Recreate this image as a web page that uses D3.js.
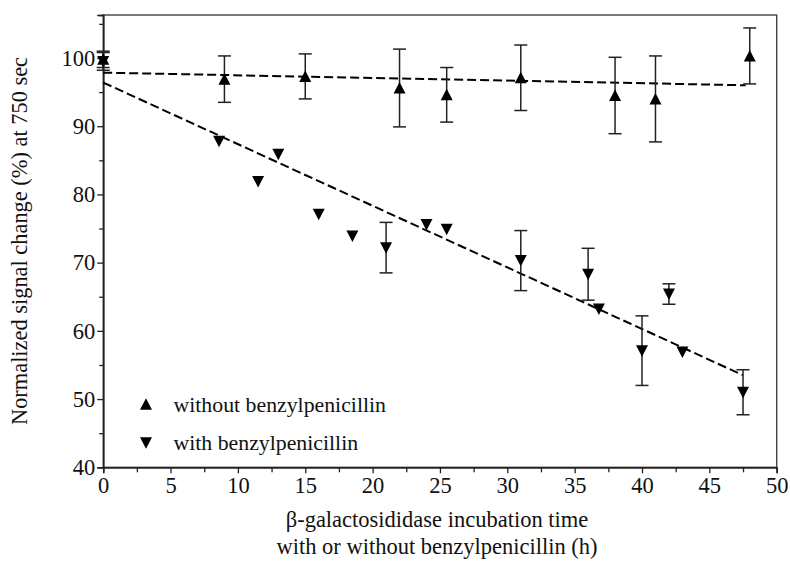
<!DOCTYPE html>
<html>
<head>
<meta charset="utf-8">
<script src="https://cdn.jsdelivr.net/npm/d3@7/dist/d3.min.js"></script>
<style>
  html, body { margin: 0; padding: 0; background: #fff; }
</style>
</head>
<body>
<svg id="chart" width="790" height="579"></svg>
<script>
// Incubation time (h) and normalized signal change (%) at 750 s
const withoutTime = [0, 9, 15, 22, 25.5, 31, 38, 41, 48];
const withoutValue = [99.8, 96.9, 97.3, 95.6, 94.6, 97.1, 94.5, 94.0, 100.3];
const withoutErr = [1.2, 3.4, 3.3, 5.7, 4.0, 4.8, 5.6, 6.3, 4.1];

const withTime = [0, 8.6, 11.5, 13, 16, 18.5, 21, 24, 25.5, 31, 36, 36.8, 40, 42, 43, 47.5];
const withValue = [99.5, 87.8, 81.9, 85.9, 77.1, 73.9, 72.2, 75.6, 74.9, 70.3, 68.3, 63.2, 57.1, 65.4, 56.9, 51.0];
const withErr = [1.3, null, null, null, null, null, 3.7, null, null, 4.4, 3.8, null, 5.1, 1.5, null, 3.3];

// Linear fits (start and end of each regression line)
const fitWithoutX = [0, 47.7];
const fitWithoutY = [97.85, 96.0];
const fitWithX = [0, 47.5];
const fitWithY = [96.4, 53.5];

const xTicks = [0, 5, 10, 15, 20, 25, 30, 35, 40, 45, 50];
const yTicks = [40, 50, 60, 70, 80, 90, 100];
const legendLabels = ["without benzylpenicillin", "with benzylpenicillin"];
const yTitle = "Normalized signal change (%) at 750 sec";
const xTitle = ["\u03B2-galactosididase incubation time", "with or without benzylpenicillin (h)"];

const FONT = "Liberation Serif";
const svg = d3.select("#chart");
const mLeft = 103.2, mRight = 776.7, mTop = 15, mBottom = 467.3;

const x = d3.scaleLinear().domain([0, 50]).range([mLeft, mRight]);
const y = d3.scaleLinear().domain([40, 106.3]).range([mBottom, mTop]);

// frame
svg.append("rect")
  .attr("x", mLeft).attr("y", mTop)
  .attr("width", mRight - mLeft).attr("height", mBottom - mTop)
  .attr("fill", "none").attr("stroke", "#444").attr("stroke-width", 1.4);

// x axis
const xAxis = d3.axisBottom(x).tickValues(xTicks).tickSize(6).tickPadding(4).tickFormat(d3.format("d"));
svg.append("g").attr("transform", `translate(0,${mBottom})`).call(xAxis);
const xMinor = d3.axisBottom(x).tickValues(d3.range(2.5, 50, 5)).tickSize(5).tickFormat("");
svg.append("g").attr("transform", `translate(0,${mBottom})`).call(xMinor);

// y axis
const yAxis = d3.axisLeft(y).tickValues(yTicks).tickSize(6).tickPadding(2).tickFormat(d3.format("d"));
svg.append("g").attr("transform", `translate(${mLeft},0)`).call(yAxis);
const yMinor = d3.axisLeft(y).tickValues([45, 55, 65, 75, 85, 95, 105]).tickSize(4).tickFormat("");
svg.append("g").attr("transform", `translate(${mLeft},0)`).call(yMinor);

svg.selectAll("g").attr("font-family", FONT);
svg.selectAll(".domain").attr("stroke", "#222").attr("stroke-width", 1.4);
svg.selectAll(".tick line").attr("stroke", "#222").attr("stroke-width", 1.3);
svg.selectAll(".tick text").attr("font-size", 22.5).attr("fill", "#111").attr("font-family", FONT);

// fit lines
const line = d3.line().x(d => x(d[0])).y(d => y(d[1]));
svg.append("path")
  .attr("d", line(fitWithoutX.map((v, i) => [v, fitWithoutY[i]])))
  .attr("fill", "none").attr("stroke", "#000").attr("stroke-width", 2).attr("stroke-dasharray", "9,4");
svg.append("path")
  .attr("d", line(fitWithX.map((v, i) => [v, fitWithY[i]])))
  .attr("fill", "none").attr("stroke", "#000").attr("stroke-width", 2).attr("stroke-dasharray", "9,4");

// error bars
function errorBars(times, values, errs) {
  const g = svg.append("g").attr("stroke", "#222").attr("stroke-width", 1.5);
  times.forEach((t, i) => {
    const e = errs[i];
    if (e == null) return;
    const cx = x(t), y1 = y(values[i] + e), y2 = y(values[i] - e);
    g.append("line").attr("x1", cx).attr("x2", cx).attr("y1", y1).attr("y2", y2);
    g.append("line").attr("x1", cx - 6.5).attr("x2", cx + 6.5).attr("y1", y1).attr("y2", y1);
    g.append("line").attr("x1", cx - 6.5).attr("x2", cx + 6.5).attr("y1", y2).attr("y2", y2);
  });
}
errorBars(withoutTime, withoutValue, withoutErr);
errorBars(withTime, withValue, withErr);

// triangle markers
const s = 6;
const upTri = `M0,${-s} L${s},${s - 0.5} L${-s},${s - 0.5} Z`;
const downTri = `M0,${s} L${s},${-s + 0.5} L${-s},${-s + 0.5} Z`;

svg.append("g").selectAll("path").data(withoutTime).join("path")
  .attr("d", upTri)
  .attr("transform", (d, i) => `translate(${x(d)},${y(withoutValue[i])})`)
  .attr("fill", "#000");
svg.append("g").selectAll("path").data(withTime).join("path")
  .attr("d", downTri)
  .attr("transform", (d, i) => `translate(${x(d)},${y(withValue[i])})`)
  .attr("fill", "#000");

// legend
const legend = svg.append("g");
[upTri, downTri].forEach((shape, i) => {
  const ly = 404.3 + i * 38.4;
  legend.append("path").attr("d", shape).attr("transform", `translate(146,${ly})`).attr("fill", "#000");
  legend.append("text").attr("x", 173.5).attr("y", ly + 7.3)
    .attr("font-size", 21.8).attr("font-family", FONT).attr("fill", "#111")
    .text(legendLabels[i]);
});

// axis titles
svg.append("text")
  .attr("transform", `translate(27,241) rotate(-90)`)
  .attr("text-anchor", "middle").attr("font-size", 22.4).attr("font-family", FONT).attr("fill", "#111")
  .text(yTitle);
xTitle.forEach((t, i) => {
  svg.append("text")
    .attr("x", 437).attr("y", 527 + i * 27)
    .attr("text-anchor", "middle").attr("font-size", 22.5).attr("font-family", FONT).attr("fill", "#111")
    .text(t);
});
</script>
</body>
</html>
